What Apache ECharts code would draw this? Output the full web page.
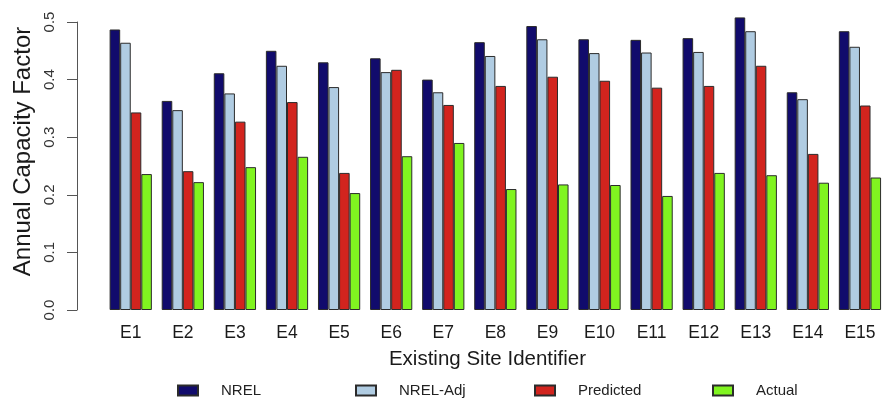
<!DOCTYPE html>
<html>
<head>
<meta charset="utf-8">
<script src="https://cdn.jsdelivr.net/npm/echarts@6/dist/echarts.min.js"></script>
<style>
  html, body { margin: 0; padding: 0; background: #ffffff; }
  #chart { width: 886px; height: 399px; }
</style>
</head>
<body>
<div id="chart"></div>
<script>
// Site identifiers along the x axis
const sites = ['E1','E2','E3','E4','E5','E6','E7','E8','E9','E10','E11','E12','E13','E14','E15'];

// Annual capacity factor per site, one array per estimate
const nrel      = [0.487,0.363,0.411,0.450,0.430,0.437,0.400,0.465,0.493,0.470,0.469,0.472,0.508,0.378,0.484];
const nrelAdj   = [0.464,0.347,0.376,0.424,0.387,0.413,0.378,0.441,0.470,0.446,0.447,0.448,0.484,0.366,0.457];
const predicted = [0.343,0.241,0.327,0.361,0.238,0.417,0.356,0.389,0.405,0.398,0.386,0.389,0.424,0.271,0.355];
const actual    = [0.236,0.222,0.248,0.266,0.203,0.267,0.290,0.210,0.218,0.217,0.198,0.238,0.234,0.221,0.230];

const seriesNames = ['NREL', 'NREL-Adj', 'Predicted', 'Actual'];
const yTicks = [0, 0.1, 0.2, 0.3, 0.4, 0.5];

const FONT = '"Liberation Sans", Arial, Helvetica, sans-serif';
const colors = ['#110b6c', '#b0cce2', '#d2241e', '#80f420'];
const barBorder = { borderColor: '#2b2b2b', borderWidth: 1 };

const catWidth = 52.8;
const barW = catWidth / 5;

function makeSeries(name, data, color) {
  return {
    name: name,
    type: 'bar',
    data: data,
    barWidth: barW,
    barGap: '0%',
    clip: false,
    itemStyle: Object.assign({ color: color }, barBorder),
    emphasis: { disabled: true }
  };
}

// One legend block per series, spaced evenly beneath the axis title
const legendLefts = [177, 355, 534, 712];
const legends = seriesNames.map((n, i) => ({
  data: [n],
  left: legendLefts[i],
  top: 383,
  padding: 0,
  icon: 'rect',
  itemWidth: 20,
  itemHeight: 10,
  selectedMode: false,
  textStyle: { fontFamily: FONT, fontSize: 15, color: '#222', padding: [0, 0, 0, 18] }
}));

const chart = echarts.init(document.getElementById('chart'), null, { renderer: 'canvas' });
chart.setOption({
  animation: false,
  backgroundColor: '#ffffff',
  legend: legends,
  grid: { left: 104.7, top: 22, width: catWidth * sites.length, height: 288, containLabel: false },
  xAxis: {
    type: 'category',
    data: sites,
    axisLine: { show: false },
    axisTick: { show: false },
    axisLabel: { fontFamily: FONT, fontSize: 17.5, color: '#1a1a1a', margin: 14, interval: 0 },
    splitLine: { show: false }
  },
  yAxis: {
    type: 'value',
    min: yTicks[0],
    max: yTicks[yTicks.length - 1],
    interval: 0.1,
    offset: 27.7,
    axisLine: { show: true, lineStyle: { color: '#555', width: 1 } },
    axisTick: { show: true, length: 10, lineStyle: { color: '#555', width: 1 } },
    axisLabel: {
      rotate: 90,
      margin: 20,
      fontFamily: FONT,
      fontSize: 15,
      color: '#333',
      formatter: v => v.toFixed(1)
    },
    splitLine: { show: false }
  },
  graphic: [
    {
      type: 'text',
      x: 23, y: 151.5,
      rotation: Math.PI / 2,
      style: {
        text: 'Annual Capacity Factor',
        font: '24px ' + FONT,
        fill: '#1a1a1a',
        align: 'center',
        verticalAlign: 'middle'
      }
    },
    {
      type: 'text',
      x: 487.5, y: 359,
      style: {
        text: 'Existing Site Identifier',
        font: '20.5px ' + FONT,
        fill: '#1a1a1a',
        align: 'center',
        verticalAlign: 'middle'
      }
    }
  ],
  series: [
    makeSeries(seriesNames[0], nrel, colors[0]),
    makeSeries(seriesNames[1], nrelAdj, colors[1]),
    makeSeries(seriesNames[2], predicted, colors[2]),
    makeSeries(seriesNames[3], actual, colors[3])
  ]
});
</script>
</body>
</html>
